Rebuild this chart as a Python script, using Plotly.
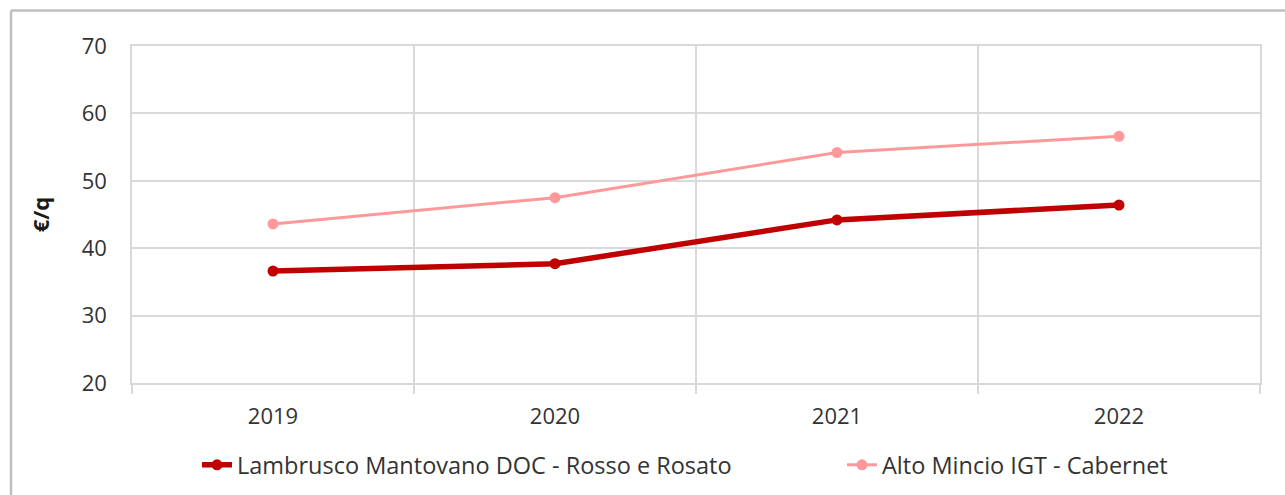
import plotly.graph_objects as go

# Prezzi medi delle uve (€/q) per anno
anni = ["2019", "2020", "2021", "2022"]
lambrusco = [36.6, 37.7, 44.2, 46.4]
alto_mincio = [43.6, 47.5, 54.2, 56.6]

nome_lambrusco = "Lambrusco Mantovano DOC - Rosso e Rosato"
nome_alto_mincio = "Alto Mincio IGT - Cabernet"

y_ticks = [20, 30, 40, 50, 60, 70]

FONT = "Open Sans"
TXT = "#333333"
GRID = "#D9D9D9"

W, H = 1285, 495
L, R, T, B = 132, 25, 46, 111.5
PW, PH = W - L - R, H - T - B


def px_x(p):
    return (p - L) / PW


def px_y(p):
    return (H - B - p) / PH


fig = go.Figure()

fig.add_trace(go.Scatter(
    x=anni, y=lambrusco, name=nome_lambrusco, mode="lines+markers",
    line=dict(color="#C00000", width=5.5),
    marker=dict(color="#C00000", size=11),
    legend="legend",
))
fig.add_trace(go.Scatter(
    x=anni, y=alto_mincio, name=nome_alto_mincio, mode="lines+markers",
    line=dict(color="#FF9999", width=3),
    marker=dict(color="#FF9999", size=11),
    legend="legend2",
))

legend_font = dict(family=FONT, size=23.5, color=TXT)
legend_y = (H - 465) / H

fig.update_layout(
    width=W, height=H,
    margin=dict(l=L, r=R, t=T, b=B, autoexpand=False),
    paper_bgcolor="white", plot_bgcolor="white",
    font=dict(family=FONT, size=22, color=TXT),
    showlegend=True,
    legend=dict(
        orientation="h", xref="container", yref="container",
        x=197 / W, y=legend_y, xanchor="left", yanchor="middle",
        font=legend_font, bgcolor="rgba(0,0,0,0)",
    ),
    legend2=dict(
        orientation="h", xref="container", yref="container",
        x=842 / W, y=legend_y, xanchor="left", yanchor="middle",
        font=legend_font, bgcolor="rgba(0,0,0,0)",
    ),
    xaxis=dict(
        type="category", range=[-0.5, 3.5], automargin=False,
        tickson="boundaries", ticks="outside", ticklen=9, tickwidth=1.5,
        tickcolor=GRID, showgrid=True, gridcolor=GRID, gridwidth=1.5,
        zeroline=False, showline=True, linecolor=GRID, linewidth=1.5, mirror=True,
        tickfont=dict(family=FONT, size=22, color=TXT),
        ticklabelstandoff=13,
    ),
    yaxis=dict(
        range=[20, 70], tickvals=y_ticks, automargin=False,
        showgrid=True, gridcolor=GRID, gridwidth=1.5,
        zeroline=False, showline=True, linecolor=GRID, linewidth=1.5, mirror=True,
        ticks="",
        tickfont=dict(family=FONT, size=22, color=TXT),
        ticklabelstandoff=19,
        title=dict(text="<b>€/q</b>", font=dict(family=FONT, size=22, color="#1a1a1a"),
                   standoff=26),
    ),
    shapes=[
        # outer frame of the chart box
        dict(type="line", xref="paper", yref="paper",
             x0=px_x(11), x1=px_x(11), y0=px_y(10.5), y1=px_y(W),
             line=dict(color="#BFBFBF", width=2.5)),
        dict(type="line", xref="paper", yref="paper",
             x0=px_x(11), x1=px_x(W + 10), y0=px_y(10.5), y1=px_y(10.5),
             line=dict(color="#BFBFBF", width=2.5)),
    ],
)

fig.write_html("out.html")
